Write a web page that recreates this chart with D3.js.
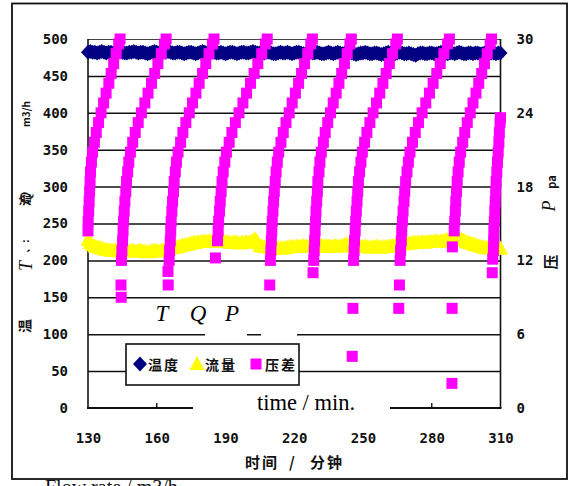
<!DOCTYPE html>
<html><head><meta charset="utf-8">
<script src="https://cdn.jsdelivr.net/npm/d3@7"></script>
<style>html,body{margin:0;padding:0;background:#fff;}svg{display:block}</style>
</head><body>
<svg id="c" width="572" height="486"></svg>
<script>
// ---------- data ----------
const xTicks = [130,160,190,220,250,280,310];
const yLeftTicks = [0,50,100,150,200,250,300,350,400,450,500];
const yRightTicks = [0,6,12,18,24,30];
const seriesNames = ["温度","流量","压差"];
const timeStart = 130, timeEnd = 310;   // 1-minute samples for temperature and flow

const temperature = [
482,483,482,482,481,482,483,482,481,482,
482,481,481,482,483,482,481,481,482,482,
483,482,481,482,482,481,480,481,482,483,
482,481,481,482,482,483,482,481,481,482,
482,481,480,481,482,482,481,480,481,482,
483,482,481,481,482,482,481,481,482,481,
480,481,482,482,481,480,481,482,482,481,
481,482,483,482,481,481,480,481,482,482,
481,480,480,481,482,481,481,482,481,480,
481,482,482,481,480,480,481,482,481,481,
482,481,480,480,481,482,481,480,481,482,
481,480,481,482,482,481,480,479,480,481,
481,482,481,480,480,481,481,480,479,480,
481,482,481,480,480,481,482,481,480,480,
481,480,479,478,480,481,481,480,480,481,
481,480,480,481,482,481,480,480,481,481,
480,481,482,481,480,480,481,481,480,481,
481,480,480,481,481,480,481,481,480,481,
481];

const flow = [
228,224,221,219,218,217,216,215,214,214,
213,213,214,213,212,213,214,213,212,213,
213,212,213,213,212,212,211,212,213,213,
213,212,213,214,214,215,216,217,217,218,
219,220,221,221,222,223,224,224,225,225,
225,226,225,226,226,226,227,226,225,226,
225,225,224,224,225,224,223,224,224,225,
224,225,227,229,225,220,219,218,218,217,
217,216,216,217,216,216,217,217,218,218,
218,219,218,219,220,219,219,220,220,219,
220,221,220,219,220,219,218,219,220,219,
219,220,221,222,221,220,219,219,218,218,
218,219,218,217,218,218,219,218,217,218,
218,219,219,220,220,220,221,222,222,223,
223,223,224,224,224,224,225,224,225,225,
225,226,226,225,226,226,227,228,229,230,
230,230,229,228,227,225,224,223,222,221,
220,219,218,217,217,216,216,216,217,216,
216];

// pressure: [time (min), value]
const pressure = [
[130.0,14.4],[130.1,15.2],[130.3,16.0],[130.5,16.8],[130.7,17.6],[130.9,18.4],[131.1,19.2],[131.5,20.0],[132.0,20.8],[132.8,21.6],[133.6,22.4],[134.6,23.2],[135.7,24.0],[136.8,24.8],[137.9,25.6],[139.1,26.4],[140.1,27.2],[141.2,28.0],[142.3,28.8],[143.4,29.6],[144.0,30.0],
[144.4,10.0],[144.5,9.0],
[144.6,12.0],[144.8,12.8],[145.1,13.6],[145.3,14.4],[145.5,15.2],[145.8,16.0],[146.1,16.8],[146.5,17.6],[146.8,18.4],[147.3,19.2],[147.8,20.0],[148.5,20.8],[149.5,21.6],[150.6,22.4],[151.9,23.2],[153.3,24.0],[154.8,24.8],[156.2,25.6],[157.7,26.4],[159.1,27.2],[160.5,28.0],[162.0,28.8],[163.4,29.6],[164.1,30.0],
[164.9,11.1],[165.0,10.0],
[165.4,12.0],[165.6,12.8],[165.9,13.6],[166.1,14.4],[166.3,15.2],[166.6,16.0],[166.9,16.8],[167.3,17.6],[167.6,18.4],[168.1,19.2],[168.6,20.0],[169.3,20.8],[170.4,21.6],[171.4,22.4],[172.7,23.2],[174.2,24.0],[175.6,24.8],[177.1,25.6],[178.5,26.4],[180.0,27.2],[181.4,28.0],[182.8,28.8],[184.3,29.6],[185.0,30.0],
[185.6,12.2],
[186.5,13.6],[186.8,14.4],[187.0,15.2],[187.4,16.0],[187.7,16.8],[188.1,17.6],[188.5,18.4],[189.0,19.2],[189.7,20.0],[190.4,20.8],[191.6,21.6],[192.8,22.4],[194.3,23.2],[195.9,24.0],[197.6,24.8],[199.2,25.6],[200.9,26.4],[202.5,27.2],[204.1,28.0],[205.8,28.8],[207.4,29.6],[208.2,30.0],
[209.3,10.0],
[209.6,12.0],[209.8,12.8],[210.0,13.6],[210.2,14.4],[210.4,15.2],[210.7,16.0],[211.0,16.8],[211.3,17.6],[211.7,18.4],[212.1,19.2],[212.6,20.0],[213.2,20.8],[214.2,21.6],[215.2,22.4],[216.4,23.2],[217.8,24.0],[219.1,24.8],[220.5,25.6],[221.9,26.4],[223.2,27.2],[224.5,28.0],[225.9,28.8],[227.2,29.6],[227.9,30.0],
[228.2,11.0],
[228.5,12.0],[228.7,12.8],[228.9,13.6],[229.1,14.4],[229.3,15.2],[229.5,16.0],[229.8,16.8],[230.1,17.6],[230.3,18.4],[230.8,19.2],[231.2,20.0],[231.8,20.8],[232.7,21.6],[233.5,22.4],[234.6,23.2],[235.8,24.0],[237.0,24.8],[238.3,25.6],[239.5,26.4],[240.7,27.2],[241.9,28.0],[243.1,28.8],[244.3,29.6],[244.9,30.0],
[245.3,4.2],[245.6,8.1],
[245.9,12.0],[246.1,12.8],[246.3,13.6],[246.6,14.4],[246.8,15.2],[247.1,16.0],[247.4,16.8],[247.7,17.6],[248.0,18.4],[248.5,19.2],[249.1,20.0],[249.7,20.8],[250.7,21.6],[251.7,22.4],[253.0,23.2],[254.4,24.0],[255.9,24.8],[257.3,25.6],[258.7,26.4],[260.1,27.2],[261.5,28.0],[262.9,28.8],[264.3,29.6],[265.0,30.0],
[265.6,8.1],[265.9,10.0],
[266.2,12.0],[266.4,12.8],[266.7,13.6],[266.9,14.4],[267.2,15.2],[267.5,16.0],[267.9,16.8],[268.2,17.6],[268.6,18.4],[269.2,19.2],[269.8,20.0],[270.5,20.8],[271.6,21.6],[272.8,22.4],[274.2,23.2],[275.8,24.0],[277.4,24.8],[279.0,25.6],[280.6,26.4],[282.2,27.2],[283.7,28.0],[285.3,28.8],[286.9,29.6],[287.7,30.0],
[288.8,2.0],[288.9,8.1],[289.0,13.1],
[289.8,14.4],[290.0,15.2],[290.3,16.0],[290.5,16.8],[290.8,17.6],[291.1,18.4],[291.5,19.2],[292.0,20.0],[292.6,20.8],[293.5,21.6],[294.4,22.4],[295.5,23.2],[296.8,24.0],[298.0,24.8],[299.3,25.6],[300.5,26.4],[301.8,27.2],[303.0,28.0],[304.2,28.8],[305.5,29.6],[306.1,30.0],
[306.4,11.0],[306.6,12.1],
[306.9,12.8],[307.0,13.6],[307.1,14.4],[307.3,15.2],[307.5,16.0],[307.7,16.8],[307.9,17.6],[308.1,18.4],[308.4,19.2],[308.7,20.0],[309.0,20.8],[309.3,21.6],[309.5,22.4],[309.8,23.2],[310.0,23.6]
];

// ---------- drawing ----------
const svg = d3.select("#c");
const W = 572, H = 486;
const L = 88, R = 500.5, T = 39, B = 408;
const x = d3.scaleLinear().domain([130,310]).range([L,R]);
const yL = d3.scaleLinear().domain([0,500]).range([B,T]);
const yR = d3.scaleLinear().domain([0,30]).range([B,T]);
const times = d3.range(timeStart, timeEnd + 1);

svg.append("rect").attr("width",W).attr("height",H).attr("fill","#fff");

const numFont = "'DejaVu Sans Mono', monospace";
const cjk = "'Noto Sans CJK SC', sans-serif";
const serif = "'Liberation Serif', 'Times New Roman', serif";

// gridlines
const grid = svg.append("g").attr("transform",`translate(${L},0)`)
  .call(d3.axisLeft(yL).tickValues(yLeftTicks.filter(v=>v>0)).tickSize(-(R-L)).tickFormat(""));
grid.select(".domain").remove();
grid.selectAll("line").attr("stroke","#111").attr("stroke-width",1.5);
grid.selectAll(".tick").filter(d=>d===500).select("line").attr("stroke","#444").attr("stroke-width",1.2);

// axes lines
svg.append("line").attr("x1",L).attr("x2",L).attr("y1",T).attr("y2",B).attr("stroke","#111").attr("stroke-width",1.6);
svg.append("line").attr("x1",R).attr("x2",R).attr("y1",T).attr("y2",B).attr("stroke","#111").attr("stroke-width",1.6);
svg.append("line").attr("x1",L-1).attr("x2",R+1).attr("y1",B).attr("y2",B).attr("stroke","#111").attr("stroke-width",1.8);
// inside x ticks
svg.append("g").selectAll("line").data(xTicks.slice(1,-1)).join("line")
  .attr("x1",d=>x(d)).attr("x2",d=>x(d)).attr("y1",B).attr("y2",B-5).attr("stroke","#111").attr("stroke-width",1.4);

// axis labels
function styleLabels(g){
  g.select(".domain").remove();
  g.selectAll("text").attr("font-family",numFont).attr("font-weight","bold").attr("font-size",14).attr("fill","#111");
}
svg.append("g").attr("transform",`translate(${L},0)`)
  .call(d3.axisLeft(yL).tickValues(yLeftTicks).tickSize(0).tickPadding(20)).call(styleLabels);
svg.append("g").attr("transform",`translate(${R},0)`)
  .call(d3.axisRight(yR).tickValues(yRightTicks).tickSize(0).tickPadding(16)).call(styleLabels);
svg.append("g").attr("transform",`translate(0,${B})`)
  .call(d3.axisBottom(x).tickValues(xTicks).tickSize(0).tickPadding(25)).call(styleLabels);

// series
const diamond = "M0,-7.5L7,0L0,7.5L-7,0Z";
const tri = "M0,-8L7.5,6L-7.5,6Z";
const sq = "M-5.5,-5.5h11v11h-11Z";

svg.append("g").selectAll("path").data(temperature).join("path")
  .attr("d",diamond).attr("fill","#000080")
  .attr("transform",(d,i)=>`translate(${x(times[i])},${yL(d)})`);
svg.append("g").selectAll("path").data(flow).join("path")
  .attr("d",tri).attr("fill","#FFFF00")
  .attr("transform",(d,i)=>`translate(${x(times[i])},${yL(d)})`);
svg.append("g").selectAll("path").data(pressure).join("path")
  .attr("d",sq).attr("fill","#FF00FF")
  .attr("transform",d=>`translate(${x(d[0])},${yR(d[1])})`);

// overlay white patches (text box artifacts)
svg.append("rect").attr("x",193).attr("y",396).attr("width",197).attr("height",18).attr("fill","#fff");
svg.append("rect").attr("x",205).attr("y",329).attr("width",42).attr("height",9).attr("fill","#fff");
svg.append("rect").attr("x",261).attr("y",329).attr("width",36).attr("height",9).attr("fill","#fff");

svg.append("text").attr("x",306).attr("y",410).attr("text-anchor","middle")
  .attr("font-family",serif).attr("font-size",22.5).attr("fill","#000").text("time / min.");

const tqp = [["T",162],["Q",198],["P",232]];
svg.append("g").selectAll("text").data(tqp).join("text")
  .attr("x",d=>d[1]).attr("y",321).attr("text-anchor","middle")
  .attr("font-family",serif).attr("font-style","italic").attr("font-size",23).attr("fill","#000")
  .text(d=>d[0]);

// legend
const lg = svg.append("g");
lg.append("rect").attr("x",126).attr("y",344).attr("width",173).attr("height",41)
  .attr("fill","#fff").attr("stroke","#111").attr("stroke-width",1.6);
const legendItems = [
  {name:seriesNames[0], shape:diamond, color:"#000080", sx:140, tx:148},
  {name:seriesNames[1], shape:tri, color:"#FFFF00", sx:197, tx:205},
  {name:seriesNames[2], shape:sq, color:"#FF00FF", sx:256, tx:265}
];
lg.selectAll("path").data(legendItems).join("path")
  .attr("d",d=>d.shape).attr("fill",d=>d.color)
  .attr("transform",d=>`translate(${d.sx},364)`);
lg.selectAll("text").data(legendItems).join("text")
  .attr("x",d=>d.tx).attr("y",370).attr("font-family",cjk).attr("font-weight","bold")
  .attr("font-size",14).attr("letter-spacing",2).attr("fill","#111").text(d=>d.name);

// x-axis title
const xt = svg.append("g").attr("font-family",cjk).attr("font-weight","bold").attr("font-size",15).attr("fill","#111");
xt.append("text").attr("x",245).attr("y",468).attr("letter-spacing",2).text("时间");
xt.append("text").attr("x",292).attr("y",468).attr("text-anchor","middle").text("/");
xt.append("text").attr("x",310).attr("y",468).attr("letter-spacing",2).text("分钟");

// left y title pieces (rotated)
function vtext(xp, yp, txt, font, size, style, weight){
  svg.append("text").attr("transform",`translate(${xp},${yp}) rotate(-90)`)
    .attr("text-anchor","middle").attr("font-family",font).attr("font-size",size)
    .attr("font-style",style||"normal").attr("font-weight",weight||"normal").attr("fill","#111").text(txt);
}
vtext(30,114,"m3/h",cjk,10,"normal","bold");
vtext(31,198,"Q",serif,17,"italic");
vtext(30,200,"流",cjk,12,"normal","bold");
vtext(29,246,"、:",cjk,10,"normal","bold");
vtext(32,266,"T",serif,18,"italic");
vtext(30,326,"温",cjk,14,"normal","bold");

// right y title pieces
vtext(556,182,"pa",cjk,11,"normal","bold");
vtext(555,206,"P",serif,18,"italic");
vtext(556,262,"压",cjk,15,"normal","bold");

// outer frame
svg.append("rect").attr("x",12).attr("y",3.5).attr("width",555).attr("height",475.5)
  .attr("fill","none").attr("stroke","#111").attr("stroke-width",1.8);
// caption underneath frame, cut by the page edge as in the reference
svg.append("text").attr("x",45).attr("y",494).attr("font-family",serif).attr("font-size",20)
  .attr("fill","#111").text("Flow rate / m3/h");
</script>
</body></html>
